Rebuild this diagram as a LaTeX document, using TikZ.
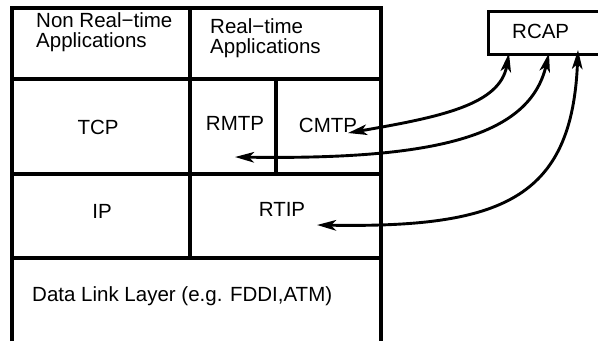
\documentclass[tikz,border=0pt]{standalone}
\usepackage{fontspec}
\setmainfont{Liberation Sans}
\usetikzlibrary{arrows.meta}
\begin{document}
\begin{tikzpicture}[x=1pt,y=-1pt,
  grid/.style={line width=3.1pt},
  label/.style={inner sep=0pt, font=\fontsize{20.5}{20.5}\selectfont},
  boxlabel/.style={label, align=left, anchor=north west},
  tip/.style={Stealth[length=19pt,width=10.5pt,inset=5pt]},
  link/.style={line width=2.9pt, {Stealth[length=19pt,width=10.5pt,inset=5pt]}-{Stealth[length=19pt,width=10.5pt,inset=5pt]}}]
\clip (0,0) rectangle (598,341);

% protocol stack grid
\draw[grid] (12,341) -- (12,8) -- (381,8) -- (381,341);
\draw[grid] (12,79) -- (381,79);
\draw[grid] (190,8) -- (190,258);
\draw[grid] (276,79) -- (276,174);
\draw[grid] (12,174) -- (379,174);
\draw[grid] (11,258) -- (381,258);

% layer names
\node[boxlabel] (nonrt) at (36,12) {Non Real−time\\Applications};
\node[boxlabel] (rtapp) at (210,18) {Real−time\\Applications};
\node[label, anchor=base] (tcp) at (98,134) {TCP};
\node[label, anchor=base] (rmtp) at (235,130) {RMTP};
\node[label, anchor=base] (cmtp) at (328,132) {CMTP};
\node[label, anchor=base] (ip) at (102,218) {IP};
\node[label, anchor=base] (rtip) at (282,216) {RTIP};
\node[label, anchor=base west] (dll) at (32,301) {Data Link Layer (e.g. FDDI,ATM)};

% control entity
\node[draw, line width=2.6pt, minimum width=125pt, minimum height=43pt,
      anchor=north west, inner sep=0pt] (rcap) at (487,10) {};
\node[label, anchor=base west] (rcaplabel) at (512,38) {RCAP};

% arrow end points
\coordinate (cmtpend) at (348,133);
\coordinate (rmtpend) at (235,157);
\coordinate (rtipend) at (317,225);
\coordinate (r1) at (509,53);
\coordinate (r2) at (549,53);
\coordinate (r3) at (578,50);

\draw[link] (cmtpend) .. controls (440,117) and (500,105) .. (r1);
\draw[link] (rmtpend) .. controls (440,160) and (530,135) .. (r2);
\draw[link] (rtipend) .. controls (500,228) and (572,200) .. (r3);
\end{tikzpicture}
\end{document}
